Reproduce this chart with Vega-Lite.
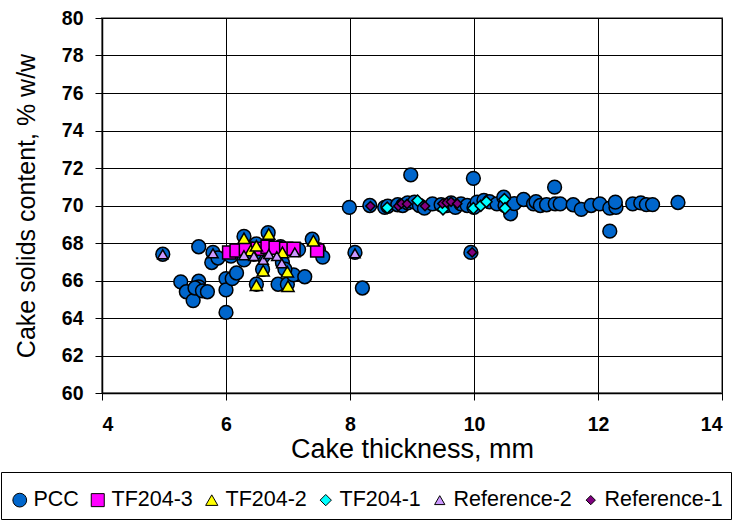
{
  "$schema": "https://vega.github.io/schema/vega-lite/v6.json",
  "width": 620,
  "height": 375,
  "autosize": {"type": "none"},
  "padding": {"left": 102, "top": 18, "right": 20, "bottom": 136},
  "background": "white",
  "config": {
    "font": "Liberation Sans",
    "view": {"stroke": "#8c8c8c", "strokeWidth": 2},
    "axis": {
      "gridColor": "#000000",
      "gridOpacity": 1,
      "gridWidth": 1,
      "domainColor": "#000000",
      "domainWidth": 1.5,
      "tickColor": "#000000",
      "tickSize": 7,
      "labelFont": "Liberation Sans",
      "labelFontSize": 19.5,
      "labelFontWeight": "bold",
      "labelColor": "#000000",
      "titleFont": "Liberation Sans",
      "titleFontWeight": "normal",
      "titleColor": "#000000"
    }
  },
  "data": {
    "values": [
      {"x": 4.98, "y": 67.4, "series": "PCC"},
      {"x": 5.27, "y": 65.93, "series": "PCC"},
      {"x": 5.56, "y": 65.96, "series": "PCC"},
      {"x": 5.56, "y": 65.66, "series": "PCC"},
      {"x": 5.36, "y": 65.4, "series": "PCC"},
      {"x": 5.47, "y": 64.93, "series": "PCC"},
      {"x": 5.5, "y": 65.6, "series": "PCC"},
      {"x": 5.62, "y": 65.45, "series": "PCC"},
      {"x": 5.7, "y": 65.4, "series": "PCC"},
      {"x": 5.56, "y": 67.8, "series": "PCC"},
      {"x": 5.79, "y": 67.5, "series": "PCC"},
      {"x": 5.77, "y": 66.96, "series": "PCC"},
      {"x": 5.87, "y": 67.2, "series": "PCC"},
      {"x": 6.0, "y": 66.1, "series": "PCC"},
      {"x": 6.0, "y": 65.5, "series": "PCC"},
      {"x": 6.0, "y": 64.3, "series": "PCC"},
      {"x": 6.1, "y": 66.1, "series": "PCC"},
      {"x": 6.17, "y": 66.4, "series": "PCC"},
      {"x": 6.08, "y": 67.3, "series": "PCC"},
      {"x": 6.29, "y": 68.35, "series": "PCC"},
      {"x": 6.29, "y": 67.1, "series": "PCC"},
      {"x": 6.49, "y": 67.95, "series": "PCC"},
      {"x": 6.49, "y": 65.8, "series": "PCC"},
      {"x": 6.59, "y": 66.6, "series": "PCC"},
      {"x": 6.68, "y": 68.55, "series": "PCC"},
      {"x": 6.68, "y": 67.9, "series": "PCC"},
      {"x": 6.88, "y": 67.8, "series": "PCC"},
      {"x": 6.84, "y": 65.8, "series": "PCC"},
      {"x": 6.99, "y": 65.8, "series": "PCC"},
      {"x": 7.09, "y": 66.3, "series": "PCC"},
      {"x": 7.17, "y": 67.65, "series": "PCC"},
      {"x": 7.27, "y": 66.2, "series": "PCC"},
      {"x": 7.39, "y": 68.2, "series": "PCC"},
      {"x": 7.49, "y": 67.65, "series": "PCC"},
      {"x": 7.56, "y": 67.25, "series": "PCC"},
      {"x": 8.08, "y": 67.5, "series": "PCC"},
      {"x": 8.2, "y": 65.6, "series": "PCC"},
      {"x": 6.6, "y": 67.3, "series": "PCC"},
      {"x": 6.91, "y": 66.95, "series": "PCC"},
      {"x": 6.95, "y": 66.6, "series": "PCC"},
      {"x": 6.45, "y": 67.4, "series": "PCC"},
      {"x": 7.99, "y": 69.9, "series": "PCC"},
      {"x": 8.32, "y": 70.0, "series": "PCC"},
      {"x": 8.56, "y": 69.9, "series": "PCC"},
      {"x": 8.61, "y": 69.96, "series": "PCC"},
      {"x": 8.77, "y": 70.04, "series": "PCC"},
      {"x": 8.85, "y": 70.0, "series": "PCC"},
      {"x": 8.93, "y": 70.14, "series": "PCC"},
      {"x": 8.98, "y": 71.63, "series": "PCC"},
      {"x": 9.04, "y": 70.18, "series": "PCC"},
      {"x": 9.12, "y": 70.0, "series": "PCC"},
      {"x": 9.2, "y": 69.86, "series": "PCC"},
      {"x": 9.33, "y": 70.09, "series": "PCC"},
      {"x": 9.47, "y": 70.04, "series": "PCC"},
      {"x": 9.56, "y": 70.0, "series": "PCC"},
      {"x": 9.63, "y": 70.14, "series": "PCC"},
      {"x": 9.7, "y": 69.9, "series": "PCC"},
      {"x": 9.79, "y": 70.09, "series": "PCC"},
      {"x": 9.89, "y": 70.0, "series": "PCC"},
      {"x": 9.99, "y": 71.45, "series": "PCC"},
      {"x": 9.95, "y": 67.5, "series": "PCC"},
      {"x": 10.0, "y": 69.9, "series": "PCC"},
      {"x": 10.05, "y": 70.18, "series": "PCC"},
      {"x": 10.16, "y": 70.27, "series": "PCC"},
      {"x": 10.25, "y": 70.2, "series": "PCC"},
      {"x": 10.37, "y": 70.09, "series": "PCC"},
      {"x": 10.48, "y": 70.44, "series": "PCC"},
      {"x": 10.5, "y": 70.0, "series": "PCC"},
      {"x": 10.59, "y": 69.56, "series": "PCC"},
      {"x": 10.65, "y": 70.1, "series": "PCC"},
      {"x": 10.8, "y": 70.32, "series": "PCC"},
      {"x": 10.96, "y": 70.09, "series": "PCC"},
      {"x": 11.0, "y": 70.2, "series": "PCC"},
      {"x": 11.07, "y": 70.0, "series": "PCC"},
      {"x": 11.17, "y": 70.04, "series": "PCC"},
      {"x": 11.31, "y": 70.09, "series": "PCC"},
      {"x": 11.39, "y": 70.09, "series": "PCC"},
      {"x": 11.3, "y": 70.98, "series": "PCC"},
      {"x": 11.6, "y": 70.04, "series": "PCC"},
      {"x": 11.73, "y": 69.79, "series": "PCC"},
      {"x": 11.89, "y": 70.0, "series": "PCC"},
      {"x": 12.03, "y": 70.09, "series": "PCC"},
      {"x": 12.19, "y": 69.86, "series": "PCC"},
      {"x": 12.29, "y": 69.9, "series": "PCC"},
      {"x": 12.28, "y": 70.18, "series": "PCC"},
      {"x": 12.19, "y": 68.63, "series": "PCC"},
      {"x": 12.56, "y": 70.09, "series": "PCC"},
      {"x": 12.69, "y": 70.14, "series": "PCC"},
      {"x": 12.78, "y": 70.05, "series": "PCC"},
      {"x": 12.88, "y": 70.05, "series": "PCC"},
      {"x": 13.29, "y": 70.16, "series": "PCC"},
      {"x": 6.05, "y": 67.5, "series": "TF204-3"},
      {"x": 6.17, "y": 67.6, "series": "TF204-3"},
      {"x": 6.32, "y": 67.7, "series": "TF204-3"},
      {"x": 6.51, "y": 67.7, "series": "TF204-3"},
      {"x": 6.67, "y": 67.8, "series": "TF204-3"},
      {"x": 6.8, "y": 67.75, "series": "TF204-3"},
      {"x": 6.97, "y": 67.7, "series": "TF204-3"},
      {"x": 7.09, "y": 67.7, "series": "TF204-3"},
      {"x": 7.47, "y": 67.6, "series": "TF204-3"},
      {"x": 6.29, "y": 68.25, "series": "TF204-2"},
      {"x": 6.4, "y": 67.6, "series": "TF204-2"},
      {"x": 6.49, "y": 67.85, "series": "TF204-2"},
      {"x": 6.69, "y": 68.48, "series": "TF204-2"},
      {"x": 6.49, "y": 65.75, "series": "TF204-2"},
      {"x": 6.6, "y": 66.52, "series": "TF204-2"},
      {"x": 6.91, "y": 67.5, "series": "TF204-2"},
      {"x": 6.99, "y": 66.47, "series": "TF204-2"},
      {"x": 7.0, "y": 65.7, "series": "TF204-2"},
      {"x": 7.41, "y": 68.12, "series": "TF204-2"},
      {"x": 8.6, "y": 69.88, "series": "TF204-1"},
      {"x": 9.09, "y": 70.26, "series": "TF204-1"},
      {"x": 9.5, "y": 69.8, "series": "TF204-1"},
      {"x": 9.99, "y": 69.85, "series": "TF204-1"},
      {"x": 10.11, "y": 69.99, "series": "TF204-1"},
      {"x": 10.2, "y": 70.2, "series": "TF204-1"},
      {"x": 10.49, "y": 70.33, "series": "TF204-1"},
      {"x": 10.5, "y": 69.85, "series": "TF204-1"},
      {"x": 4.98, "y": 67.4, "series": "Reference-2"},
      {"x": 5.79, "y": 67.45, "series": "Reference-2"},
      {"x": 6.29, "y": 67.35, "series": "Reference-2"},
      {"x": 6.45, "y": 67.3, "series": "Reference-2"},
      {"x": 6.6, "y": 67.1, "series": "Reference-2"},
      {"x": 6.69, "y": 67.41, "series": "Reference-2"},
      {"x": 6.82, "y": 67.3, "series": "Reference-2"},
      {"x": 6.9, "y": 66.92, "series": "Reference-2"},
      {"x": 7.11, "y": 67.5, "series": "Reference-2"},
      {"x": 8.08, "y": 67.45, "series": "Reference-2"},
      {"x": 8.33, "y": 69.97, "series": "Reference-1"},
      {"x": 8.78, "y": 69.97, "series": "Reference-1"},
      {"x": 8.83, "y": 70.1, "series": "Reference-1"},
      {"x": 8.92, "y": 70.08, "series": "Reference-1"},
      {"x": 9.21, "y": 69.97, "series": "Reference-1"},
      {"x": 9.49, "y": 70.1, "series": "Reference-1"},
      {"x": 9.56, "y": 70.15, "series": "Reference-1"},
      {"x": 9.63, "y": 70.2, "series": "Reference-1"},
      {"x": 9.73, "y": 70.1, "series": "Reference-1"},
      {"x": 9.97, "y": 67.5, "series": "Reference-1"}
    ]
  },
  "mark": {"type": "point", "filled": true, "opacity": 1, "stroke": "#000000", "strokeWidth": 1.5},
  "encoding": {
    "x": {
      "field": "x",
      "type": "quantitative",
      "scale": {"domain": [4, 14], "nice": false, "zero": false},
      "axis": {"title": "Cake thickness, mm", "titleFontSize": 27, "values": [4, 6, 8, 10, 12, 14], "labelPadding": 15, "titlePadding": 3}
    },
    "y": {
      "field": "y",
      "type": "quantitative",
      "scale": {"domain": [60, 80], "nice": false, "zero": false},
      "axis": {"title": "Cake solids content, % w/w", "titleFontSize": 25, "values": [60, 62, 64, 66, 68, 70, 72, 74, 76, 78, 80], "labelPadding": 12, "titlePadding": 22}
    },
    "color": {
      "field": "series",
      "type": "nominal",
      "scale": {
        "domain": ["PCC", "TF204-3", "TF204-2", "TF204-1", "Reference-2", "Reference-1"],
        "range": ["#0066CC", "#FF00FF", "#FFFF00", "#00FFFF", "#CC99FF", "#800080"]
      },
      "legend": {
        "title": " ",
        "titleFontSize": 5,
        "titlePadding": 4,
        "orient": "none",
        "direction": "horizontal",
        "legendX": -101,
        "legendY": 454,
        "padding": 8,
        "strokeColor": "#000000",
        "fillColor": "#ffffff",
        "labelFont": "Liberation Sans",
        "labelFontSize": 21.5,
        "labelColor": "#000000",
        "labelLimit": 300,
        "labelOffset": 3,
        "symbolSize": 120,
        "symbolStrokeColor": "#000000",
        "symbolStrokeWidth": 1,
        "columnPadding": 8
      }
    },
    "shape": {
      "field": "series",
      "type": "nominal",
      "scale": {
        "domain": ["PCC", "TF204-3", "TF204-2", "TF204-1", "Reference-2", "Reference-1"],
        "range": ["circle", "square", "triangle-up", "diamond", "triangle-up", "diamond"]
      }
    },
    "size": {
      "field": "series",
      "type": "nominal",
      "scale": {
        "domain": ["PCC", "TF204-3", "TF204-2", "TF204-1", "Reference-2", "Reference-1"],
        "range": [190, 85, 110, 110, 110, 110]
      },
      "legend": null
    }
  }
}
